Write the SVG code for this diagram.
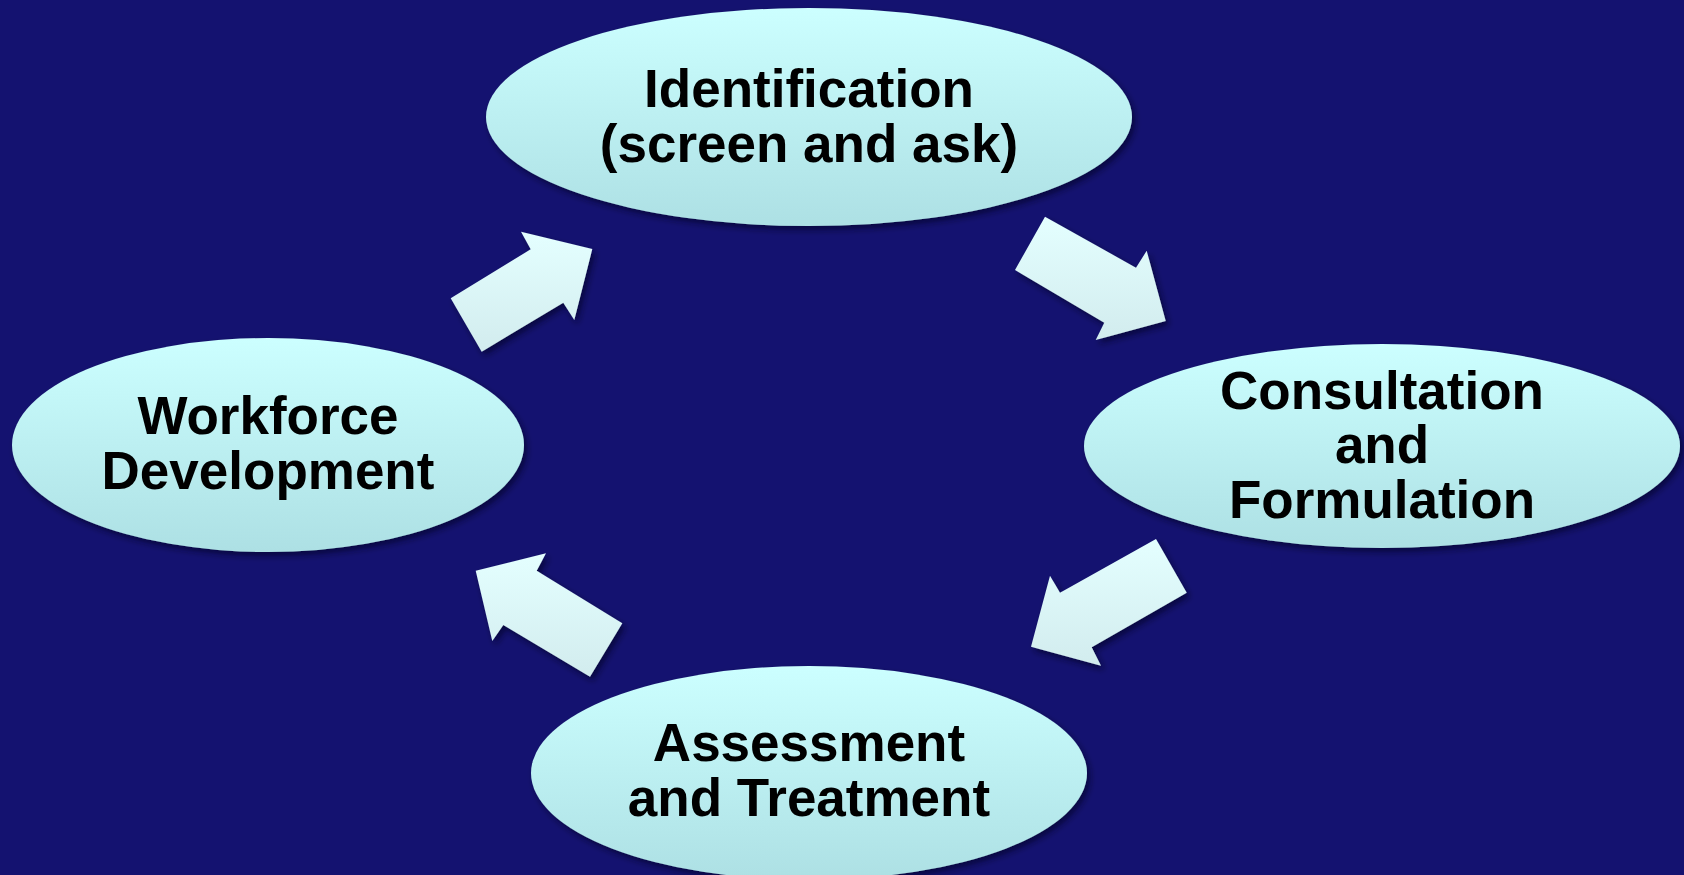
<svg xmlns="http://www.w3.org/2000/svg" width="1684" height="875" viewBox="0 0 1684 875">
  <defs>
    <linearGradient id="ellG" x1="0" y1="0" x2="0" y2="1">
      <stop offset="0" stop-color="#ccffff"/>
      <stop offset="1" stop-color="#ade0e4"/>
    </linearGradient>
    <linearGradient id="arrG" x1="0" y1="0" x2="0" y2="1">
      <stop offset="0" stop-color="#e4ffff"/>
      <stop offset="1" stop-color="#d2ecee"/>
    </linearGradient>
    <filter id="sh" x="-20%" y="-20%" width="140%" height="140%">
      <feGaussianBlur in="SourceAlpha" stdDeviation="3"/>
      <feOffset dx="3" dy="4" result="b"/>
      <feFlood flood-color="#000020" flood-opacity="0.6"/>
      <feComposite in2="b" operator="in"/>
      <feMerge><feMergeNode/><feMergeNode in="SourceGraphic"/></feMerge>
    </filter>
  </defs>
  <style>
    .node ellipse { fill: url(#ellG); filter: url(#sh); }
    .node text { font-family: "Liberation Sans", Arial, sans-serif; font-weight: bold; font-size: 53px; fill: #000; text-anchor: middle; }
    .arrow { fill: url(#arrG); filter: url(#sh); }
  </style>
  <rect width="1684" height="875" fill="#141270"/>

  <g id="connectors">
    <polygon class="arrow" points="450.7,298.3 530.7,249.3 521,231.7 592.3,249 574.3,320 563.3,302.7 481.7,351.7"/>
    <polygon class="arrow" points="1045,216.7 1136,267.7 1146.7,250.7 1165.7,321 1095.7,340 1104.3,322.7 1015,270"/>
    <polygon class="arrow" points="1156,539 1186.7,592.7 1091.7,647.3 1101,665.7 1031,646.7 1050,575.7 1060,592.7"/>
    <polygon class="arrow" points="622.3,623.3 590,676.7 503.3,625 492.3,641 475.7,570.7 546,553.3 536.7,570.7"/>
  </g>

  <g id="identification" class="node">
    <ellipse cx="809" cy="117" rx="323" ry="109"/>
    <text x="809" y="107">Identification</text>
    <text x="809" y="162">(screen and ask)</text>
  </g>

  <g id="consultation" class="node">
    <ellipse cx="1382" cy="446" rx="298" ry="102"/>
    <text x="1382" y="409">Consultation</text>
    <text x="1382" y="463">and</text>
    <text x="1382" y="518">Formulation</text>
  </g>

  <g id="workforce" class="node">
    <ellipse cx="268" cy="445" rx="256" ry="107"/>
    <text x="268" y="434">Workforce</text>
    <text x="268" y="489">Development</text>
  </g>

  <g id="assessment" class="node">
    <ellipse cx="809" cy="773" rx="278" ry="107"/>
    <text x="809" y="761">Assessment</text>
    <text x="809" y="816">and Treatment</text>
  </g>
</svg>
